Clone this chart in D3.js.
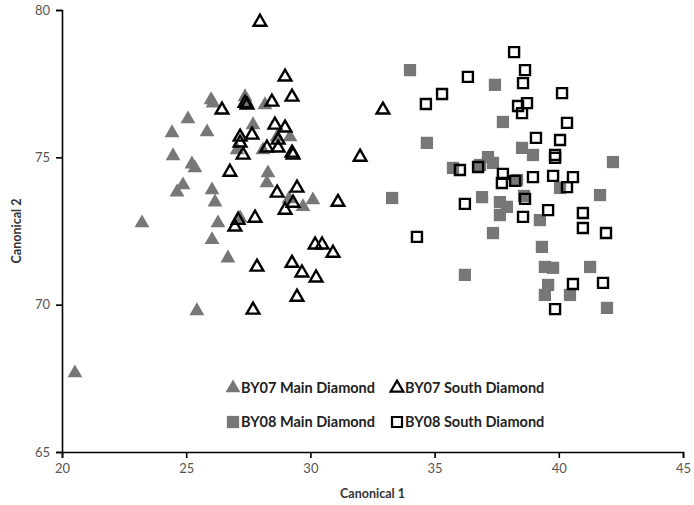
<!DOCTYPE html>
<html><head><meta charset="utf-8">
<script src="https://cdn.jsdelivr.net/npm/d3@7"></script>
<style>body{margin:0;background:#fff}svg{display:block}</style>
</head><body>
<script>
const xTicks = [20,25,30,35,40,45];
const yTicks = [65,70,75,80];
const seriesNames = ["BY07 Main Diamond","BY07 South Diamond","BY08 Main Diamond","BY08 South Diamond"];

const by07MainX = [20.52,23.22,25.43,24.47,24.43,25.07,25.84,26.00,26.08,27.37,27.41,27.69,28.17,28.66,29.18,27.05,28.09,25.23,25.35,24.87,24.63,26.04,26.16,26.28,27.17,26.04,26.68,28.29,28.25,29.14,29.70,30.10];
const by07MainY = [67.68,72.77,69.79,75.05,75.83,76.30,75.86,76.95,76.84,77.05,76.91,76.10,76.78,75.69,75.69,75.25,75.25,74.77,74.64,74.06,73.82,73.89,73.48,72.77,72.94,72.20,71.58,74.47,74.13,73.59,73.32,73.55];

const by07SouthX = [27.97,28.98,26.44,27.45,27.37,28.45,29.26,32.92,28.57,28.98,27.17,27.65,27.17,28.25,28.70,28.70,27.29,29.26,29.30,32.00,26.76,28.66,29.46,29.30,28.98,31.11,27.09,26.96,27.77,30.19,30.47,30.91,27.85,29.26,29.66,30.23,29.46,27.69];
const by07SouthY = [79.59,77.73,76.61,76.78,76.84,76.88,77.05,76.61,76.10,76.00,75.69,75.76,75.49,75.32,75.59,75.32,75.08,75.15,75.08,75.01,74.50,73.79,73.96,73.45,73.21,73.48,72.87,72.64,72.94,72.03,72.03,71.75,71.28,71.41,71.08,70.91,70.26,69.82];

const by08MainX = [34.01,37.43,37.75,34.69,38.52,38.96,42.18,37.15,35.74,36.83,37.35,33.29,38.32,36.91,37.63,37.91,37.63,38.60,39.24,37.35,39.32,36.22,39.44,39.77,39.57,39.44,40.45,41.26,41.94,40.05,41.66];
const by08MainY = [77.96,77.46,76.20,75.49,75.32,75.08,74.84,75.01,74.64,74.74,74.81,73.62,74.23,73.65,73.48,73.32,73.04,73.69,72.87,72.43,71.96,71.01,71.28,71.25,70.67,70.33,70.33,71.28,69.89,73.96,73.72];

const by08SouthX = [38.20,38.64,36.34,38.56,35.30,34.65,38.36,38.72,38.52,39.08,40.13,40.33,40.05,39.85,39.85,36.02,36.75,37.75,37.71,38.24,38.96,39.77,40.57,40.33,36.22,38.64,38.56,39.57,40.97,40.97,41.90,34.29,40.57,41.78,39.85];
const by08SouthY = [78.57,77.96,77.73,77.52,77.15,76.81,76.74,76.84,76.50,75.66,77.18,76.17,75.59,75.08,74.98,74.57,74.67,74.44,74.13,74.20,74.33,74.37,74.33,73.99,73.42,73.59,72.98,73.21,73.11,72.60,72.43,72.30,70.70,70.74,69.85];

const W = 694, H = 505;
const margin = {left:62, right:11, top:10, bottom:53};
const GRAY = "#777777";

const svg = d3.select("body").append("svg").attr("width",W).attr("height",H)
  .style("font-family","Lato, 'Open Sans', sans-serif");

const x = d3.scaleLinear().domain([20,45]).range([margin.left, W-margin.right]);
const y = d3.scaleLinear().domain([65,80]).range([H-margin.bottom, margin.top]);

const xAxis = svg.append("g").attr("transform",`translate(0,${y(65)})`)
  .call(d3.axisBottom(x).tickValues(xTicks).tickSize(6).tickPadding(6));
const yAxis = svg.append("g").attr("transform",`translate(${x(20)},0)`)
  .call(d3.axisLeft(y).tickValues(yTicks).tickSize(6).tickPadding(6));
[xAxis,yAxis].forEach(g=>{
  g.select(".domain").attr("stroke","#000").attr("stroke-width",1.6);
  g.selectAll(".tick line").attr("stroke","#000").attr("stroke-width",1.6);
  g.selectAll(".tick text").attr("fill","#555").style("font-size","13px").style("font-family","Lato, 'Open Sans', sans-serif");
});

svg.append("text").attr("x",x(32.5)).attr("y",498).attr("text-anchor","middle")
  .style("font-size","12.5px").style("font-weight","bold").attr("fill","#333").text("Canonical 1");
svg.append("text").attr("transform",`translate(21,${y(72.5)}) rotate(-90)`).attr("text-anchor","middle")
  .style("font-size","12.5px").style("font-weight","bold").attr("fill","#333").text("Canonical 2");

const tri = d3.symbol().type(d3.symbolTriangle).size(95);
const triOpen = d3.symbol().type(d3.symbolTriangle).size(70);
const sq = d3.symbol().type(d3.symbolSquare).size(150);
const sqOpen = d3.symbol().type(d3.symbolSquare).size(100);

function pts(xs, ys){ return xs.map((v,i)=>[v, ys[i]]); }

const plot = svg.append("g");
function draw(data, gen, filled){
  plot.append("g").selectAll("path").data(data).join("path")
    .attr("transform",d=>`translate(${x(d[0])},${y(d[1])})`)
    .attr("d",gen)
    .attr("fill", filled ? GRAY : "none")
    .attr("stroke", filled ? "none" : "#000")
    .attr("stroke-width", filled ? 0 : 2.4);
}
draw(pts(by07MainX,by07MainY), tri, true);
draw(pts(by08MainX,by08MainY), sq, true);
draw(pts(by07SouthX,by07SouthY), triOpen, false);
draw(pts(by08SouthX,by08SouthY), sqOpen, false);

const legend = svg.append("g");
const legItems = [
  {name:seriesNames[0], gen:tri, filled:true, lx:233, ly:388},
  {name:seriesNames[1], gen:triOpen, filled:false, lx:397, ly:388},
  {name:seriesNames[2], gen:sq, filled:true, lx:233, ly:422},
  {name:seriesNames[3], gen:sqOpen, filled:false, lx:397, ly:422}
];
legItems.forEach(it=>{
  legend.append("path").attr("transform",`translate(${it.lx},${it.ly})`).attr("d",it.gen)
    .attr("fill", it.filled?GRAY:"none").attr("stroke", it.filled?"none":"#000").attr("stroke-width", it.filled?0:2.2);
  legend.append("text").attr("x",it.lx+8).attr("y",it.ly+5)
    .style("font-size","14.5px").style("font-weight","bold").attr("fill","#222").text(it.name);
});
</script>
</body></html>
